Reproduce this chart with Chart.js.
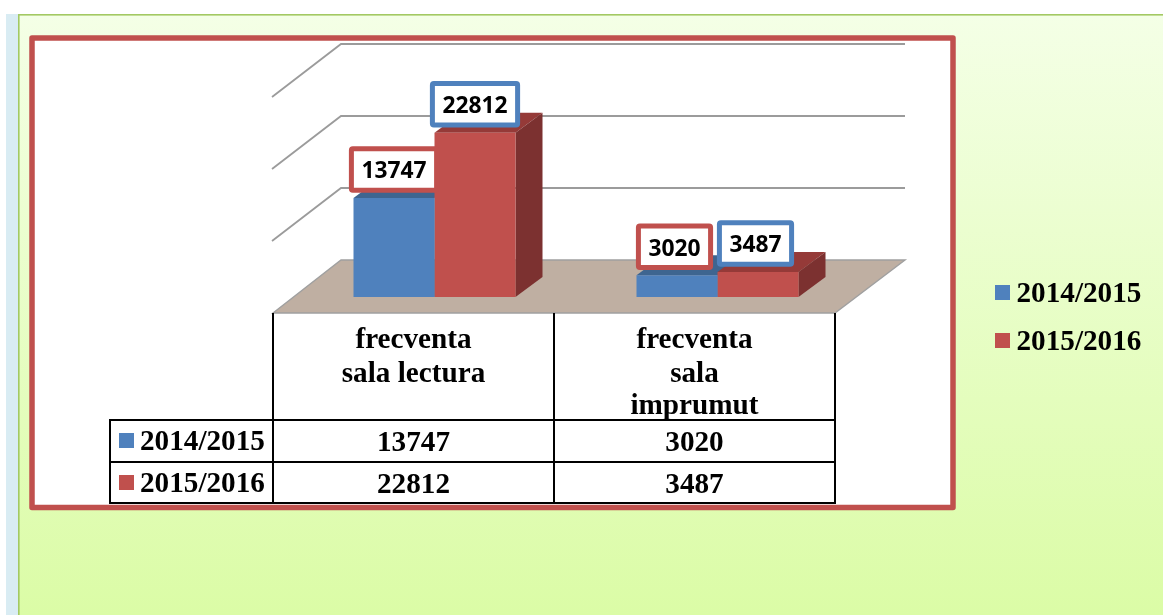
<!DOCTYPE html>
<html>
<head>
<meta charset="utf-8">
<style>html,body{margin:0;padding:0;background:#fff;overflow:hidden}canvas{display:block}</style>
<script src="https://cdn.jsdelivr.net/npm/chart.js@4"></script>
</head>
<body>
<canvas id="c" width="1163" height="615"></canvas>
<script>
const categories = [["frecventa", "sala lectura"], ["frecventa", "sala", "imprumut"]];
const seriesNames = ["2014/2015", "2015/2016"];
const values2014 = [13747, 3020];
const values2015 = [22812, 3487];
const yTicks = [0, 10000, 20000, 30000];

const BLUE = "#4f81bd", RED = "#c0504d";
const SERIF = '"Liberation Serif", serif';
const LABELFONT = 'bold 24px "Noto Sans", sans-serif';
const LABELSQUEEZE = 0.95;
const DX = 27, DY = -20;

function poly(ctx, pts, fill, stroke, lw) {
  ctx.beginPath();
  pts.forEach((p, i) => i ? ctx.lineTo(p[0], p[1]) : ctx.moveTo(p[0], p[1]));
  ctx.closePath();
  if (fill) { ctx.fillStyle = fill; ctx.fill(); }
  if (stroke) { ctx.strokeStyle = stroke; ctx.lineWidth = lw; ctx.stroke(); }
}
function line(ctx, x1, y1, x2, y2, color, lw) {
  ctx.beginPath(); ctx.moveTo(x1, y1); ctx.lineTo(x2, y2);
  ctx.strokeStyle = color; ctx.lineWidth = lw; ctx.stroke();
}

const scene = {
  id: "scene",
  beforeDraw(chart) {
    const ctx = chart.ctx;
    ctx.save();
    ctx.fillStyle = "#ffffff"; ctx.fillRect(0, 0, 1163, 615);
    ctx.fillStyle = "#d9ecf3"; ctx.fillRect(6, 14, 12, 601);
    const g = ctx.createLinearGradient(0, 15, 0, 615);
    g.addColorStop(0, "#f4ffe6"); g.addColorStop(1, "#dbfca6");
    ctx.fillStyle = g; ctx.fillRect(19, 15, 1144, 600);
    ctx.fillStyle = "#a3c963"; ctx.fillRect(18, 14, 1145, 1.6); ctx.fillRect(18, 14, 1.6, 601);
    ctx.fillStyle = "#ffffff"; ctx.fillRect(32, 38, 921, 469.5);
    ctx.restore();
  },
  beforeDatasetsDraw(chart) {
    const ctx = chart.ctx, y = chart.scales.y;
    ctx.save();
    const base = y.getPixelForValue(0);
    yTicks.forEach(v => {
      const back = y.getPixelForValue(v) - 37;
      if (v > 0) {
        ctx.beginPath();
        ctx.moveTo(272, back + 53); ctx.lineTo(341, back); ctx.lineTo(905, back);
        ctx.strokeStyle = "#9b9b9b"; ctx.lineWidth = 1.8; ctx.stroke();
      }
    });
    const fb = base - 37, ff = base + 16;
    poly(ctx, [[273, ff], [835, ff], [905, fb], [341, fb]], "#bfafa2", "#a0a0a0", 1.4);
    const tops = ["#3e6590", "#953a38"], sides = ["#39597f", "#7c3130"];
    chart.data.datasets.forEach((d, di) => {
      chart.getDatasetMeta(di).data.forEach(b => {
        const l = b.x - b.width / 2, r = b.x + b.width / 2;
        poly(ctx, [[l, b.y], [l + DX, b.y + DY], [r + DX, b.y + DY], [r, b.y]], tops[di]);
        poly(ctx, [[r, b.y], [r + DX, b.y + DY], [r + DX, b.base + DY], [r, b.base]], sides[di]);
      });
    });
    ctx.restore();
  },
  afterDatasetsDraw(chart) {
    const ctx = chart.ctx;
    ctx.save();
    const borders = [RED, BLUE];
    ctx.textAlign = "center"; ctx.textBaseline = "middle";
    chart.data.datasets.forEach((d, di) => {
      chart.getDatasetMeta(di).data.forEach((b, i) => {
        const cx = b.x - (i === 1 ? 2.5 : 0), cy = b.y - 28.5;
        const text = String(d.data[i]);
        ctx.font = LABELFONT;
        const w = ctx.measureText(text).width * LABELSQUEEZE + 20, h = 41.5;
        ctx.beginPath(); ctx.roundRect(cx - w / 2, cy - h / 2, w, h, 1.5);
        ctx.fillStyle = "#fff"; ctx.fill();
        ctx.strokeStyle = borders[di]; ctx.lineWidth = 5; ctx.stroke();
        ctx.fillStyle = "#000";
        ctx.save();
        ctx.translate(cx, cy + 2);
        ctx.scale(LABELSQUEEZE, 1);
        ctx.fillText(text, 0, 0);
        ctx.restore();
      });
    });
    const colX = [273, 554, 835], rowY = [420, 462, 503];
    ctx.lineCap = "square";
    colX.forEach(x => line(ctx, x, 314, x, 503, "#000", 2));
    rowY.forEach(r => line(ctx, 110, r, 835, r, "#000", 2));
    line(ctx, 110, 420, 110, 503, "#000", 2);
    ctx.fillStyle = "#000"; ctx.textBaseline = "middle";
    ctx.font = "bold 29.2px " + SERIF;
    ctx.textAlign = "center";
    const lineY = [340, 374, 406];
    categories.forEach((c, i) => {
      const cx = (colX[i] + colX[i + 1]) / 2;
      c.forEach((t, j) => ctx.fillText(t, cx, lineY[j]));
      chart.data.datasets.forEach((d, di) => ctx.fillText(String(d.data[i]), cx, 443 + di * 42));
    });
    ctx.textAlign = "left";
    chart.data.datasets.forEach((d, di) => {
      ctx.fillStyle = d.backgroundColor; ctx.fillRect(119, 433 + di * 42, 15, 15);
      ctx.fillRect(995, 285 + di * 48, 15, 15);
      ctx.fillStyle = "#000";
      ctx.fillText(d.label, 140, 442 + di * 42);
      ctx.fillText(d.label, 1016.5, 294 + di * 48);
    });
    ctx.strokeStyle = RED; ctx.lineWidth = 5.5; ctx.lineJoin = "round";
    ctx.strokeRect(32, 38, 921, 469.5);
    ctx.restore();
  }
};

new Chart(document.getElementById("c"), {
  type: "bar",
  data: {
    labels: categories,
    datasets: [
      { label: seriesNames[0], data: values2014, backgroundColor: BLUE, borderWidth: 0 },
      { label: seriesNames[1], data: values2015, backgroundColor: RED, borderWidth: 0 }
    ]
  },
  options: {
    responsive: false,
    animation: false,
    layout: { padding: { left: 293, right: 304, top: 81, bottom: 318 } },
    categoryPercentage: 162 / 283,
    barPercentage: 1,
    scales: {
      x: { display: false, grid: { display: false } },
      y: { display: false, min: 0, max: 30000, ticks: { stepSize: 10000 }, grid: { display: false } }
    },
    plugins: { legend: { display: false }, tooltip: { enabled: false }, title: { display: false } }
  },
  plugins: [scene]
});
</script>
</body>
</html>
